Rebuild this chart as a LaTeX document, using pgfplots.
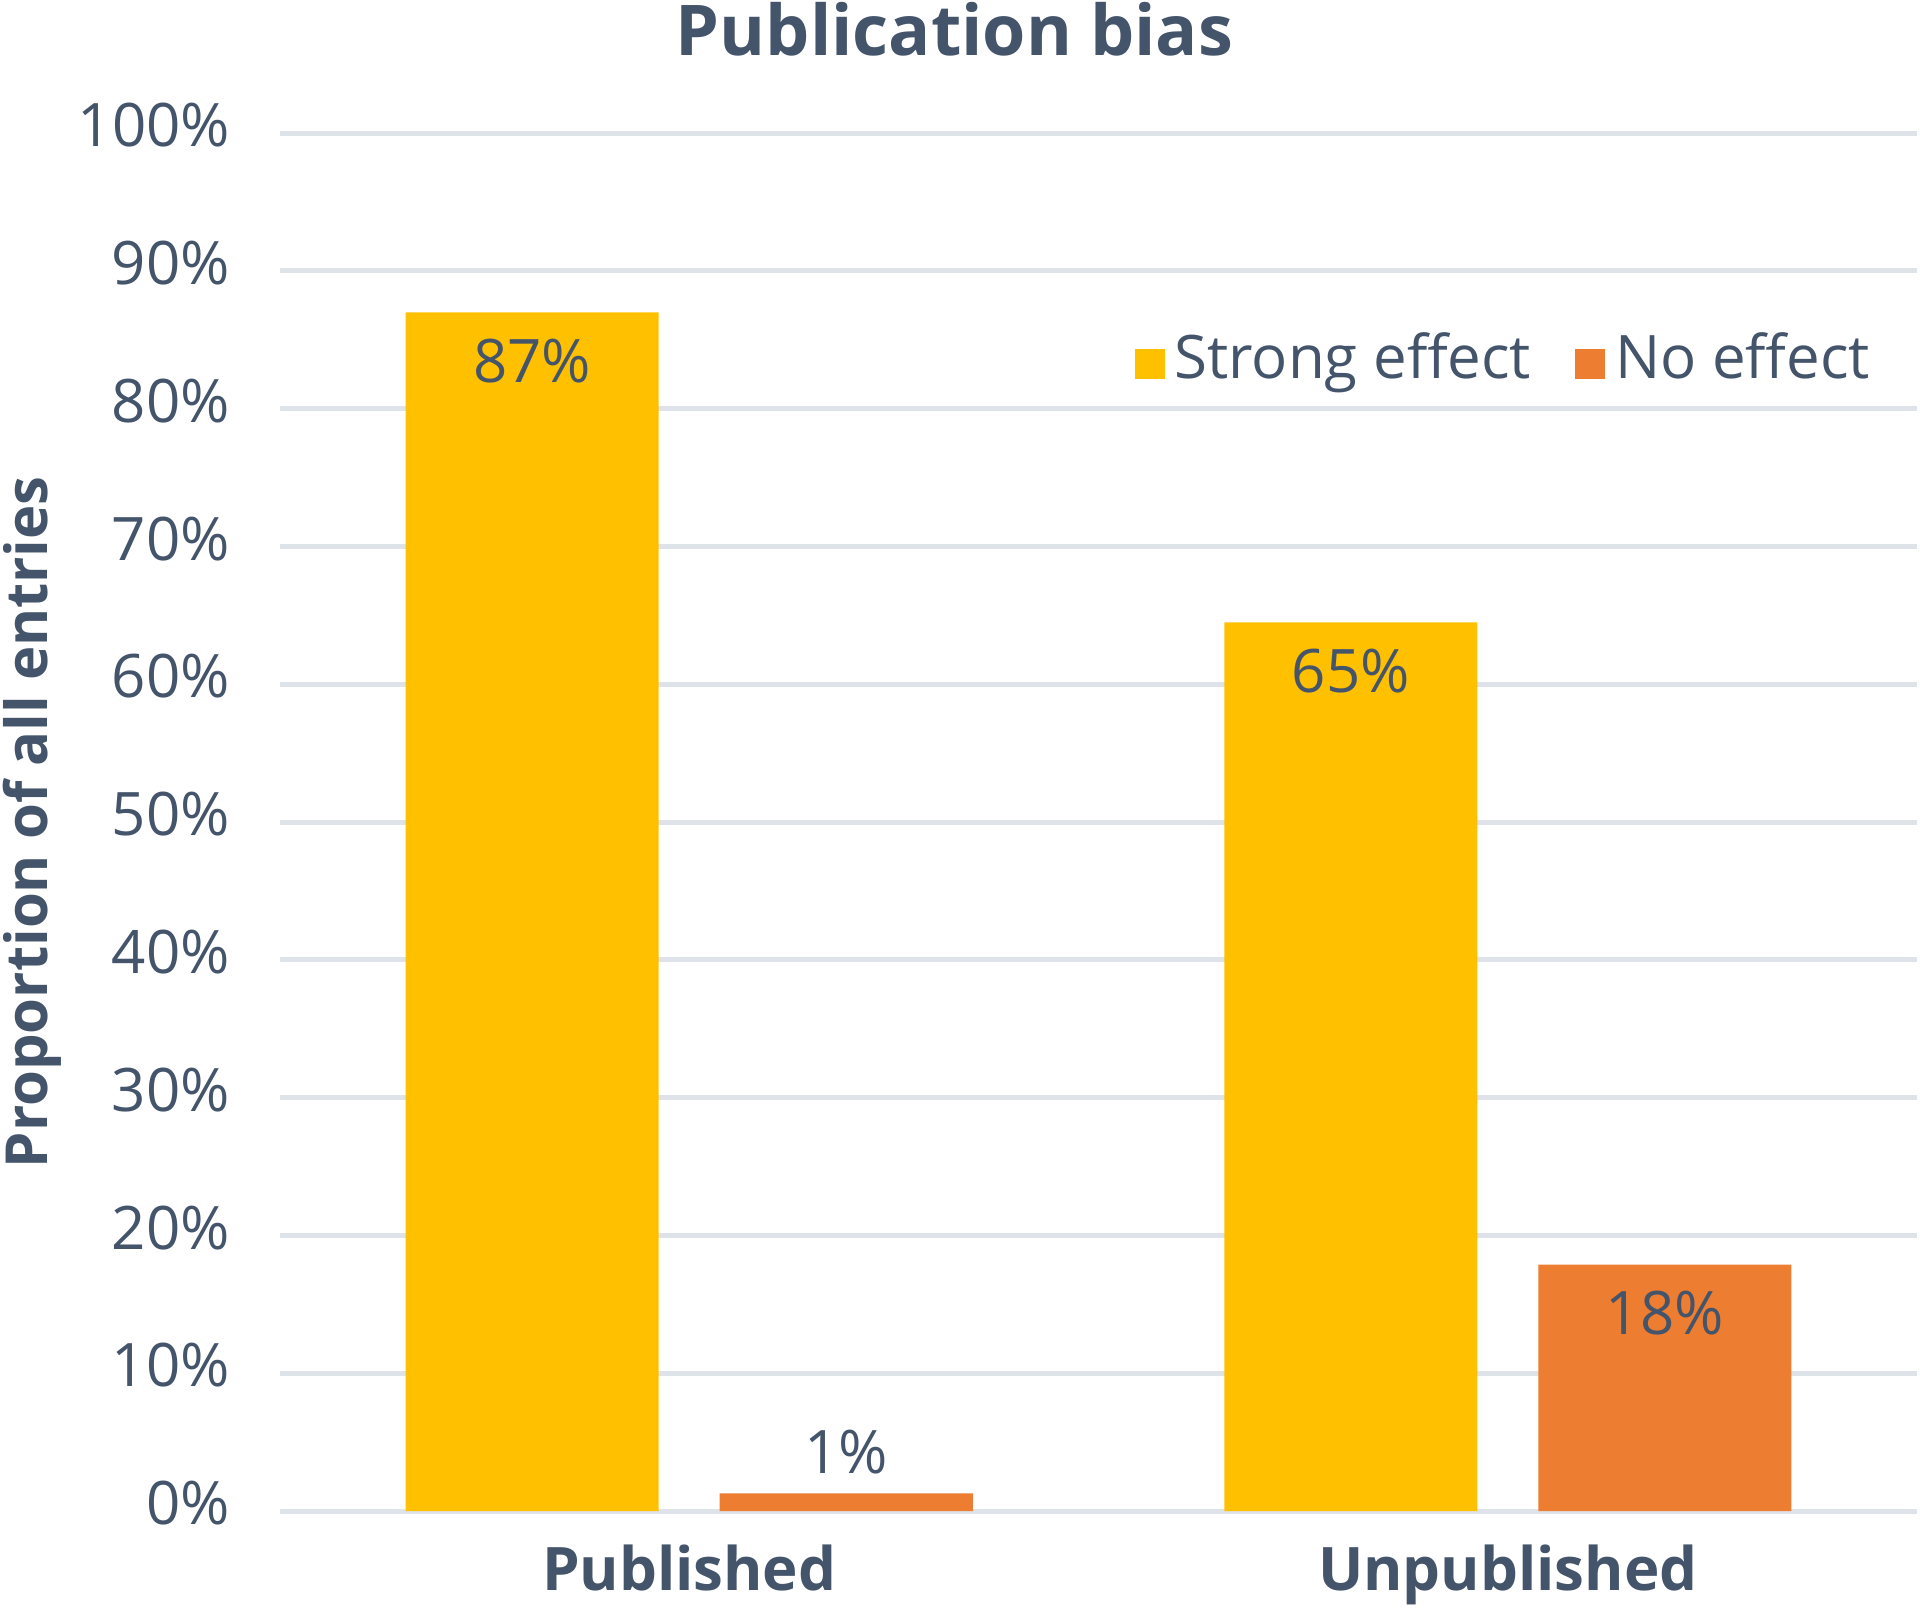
\documentclass[border=0pt]{standalone}
\usepackage{fontspec}
\setmainfont{Open Sans}
\usepackage{pgfplots}
\usepackage{pgfplotstable}
\pgfplotsset{compat=1.18}
\definecolor{textc}{HTML}{44546A}
\definecolor{gridc}{HTML}{DEE2E9}
\definecolor{strongc}{HTML}{FFC000}
\definecolor{noc}{HTML}{ED7D31}

\pgfplotstableread{
x y lab sh
0 87.0 87 -17.5
1 64.5 65 -17.5
}\strongdata
\pgfplotstableread{
x y lab sh
0 1.3 1 5
1 17.9 18 -17.5
}\nodata

\begin{document}
\begin{tikzpicture}[font=\fontsize{15}{18}\selectfont, text=textc]
\begin{axis}[
  scale only axis, width=409.25pt, height=344.5pt,
  xmin=-0.5, xmax=1.5, ymin=0, ymax=100,
  enlargelimits=false,
  ybar=15.25pt, bar width=63.25pt,
  axis line style={draw=none}, tick style={draw=none}, major tick length=0pt,
  xtick={0,1}, xticklabels={Published,Unpublished},
  ytick={0,10,20,30,40,50,60,70,80,90,100},
  yticklabels={0\%,10\%,20\%,30\%,40\%,50\%,60\%,70\%,80\%,90\%,100\%},
  ymajorgrids, grid style={line width=1.25pt, gridc},
  xticklabel style={font=\fontsize{15}{18}\selectfont\bfseries, anchor=base, yshift=-19.7pt, inner sep=0pt},
  yticklabel style={anchor=east, xshift=-12.3pt, yshift=2pt, inner sep=0pt},
  title={Publication bias},
  every axis title/.style={font=\fontsize{17.5}{20}\selectfont\bfseries, at={([yshift=19.5pt]axis description cs:0.412,1)}, anchor=base, inner sep=0pt},
  ylabel={Proportion of all entries},
  every axis y label/.style={font=\fontsize{14.5}{18}\selectfont\bfseries, at={([xshift=-58pt]axis description cs:0,0.5)}, rotate=90, anchor=base, inner sep=0pt},
  legend columns=2,
  legend style={draw=none, fill=none, inner sep=0pt, outer sep=0pt,
    at={(rel axis cs:0.9713,0.8292)}, anchor=east,
    nodes={inner sep=0pt, text height=0.75em, text depth=0.25em},
    /tikz/every odd column/.append style={column sep=2.5pt},
    /tikz/every even column/.append style={column sep=11pt}},
  nodes near coords={\pgfplotspointmeta\%},
  point meta=explicit symbolic,
  visualization depends on={\thisrow{sh} \as \labsh},
  every node near coord/.append style={anchor=base, yshift=\labsh pt, inner sep=0pt, font=\fontsize{15}{18}\selectfont, text=textc},
]
\addplot[fill=strongc, draw=none,
  legend image code/.code={\fill[strongc] (0pt,-2.5pt) rectangle (7.5pt,5pt);}]
  table[x=x, y=y, meta=lab] {\strongdata};
\addlegendentry{Strong effect}
\addplot[fill=noc, draw=none,
  legend image code/.code={\fill[noc] (0pt,-2.5pt) rectangle (7.5pt,5pt);}]
  table[x=x, y=y, meta=lab] {\nodata};
\addlegendentry{No effect}
\end{axis}
\pgfresetboundingbox
\path[use as bounding box] ([xshift=-70pt,yshift=-24.2pt]current axis.south west) rectangle ([xshift=0.75pt,yshift=33.3pt]current axis.north east);
\end{tikzpicture}
\end{document}
